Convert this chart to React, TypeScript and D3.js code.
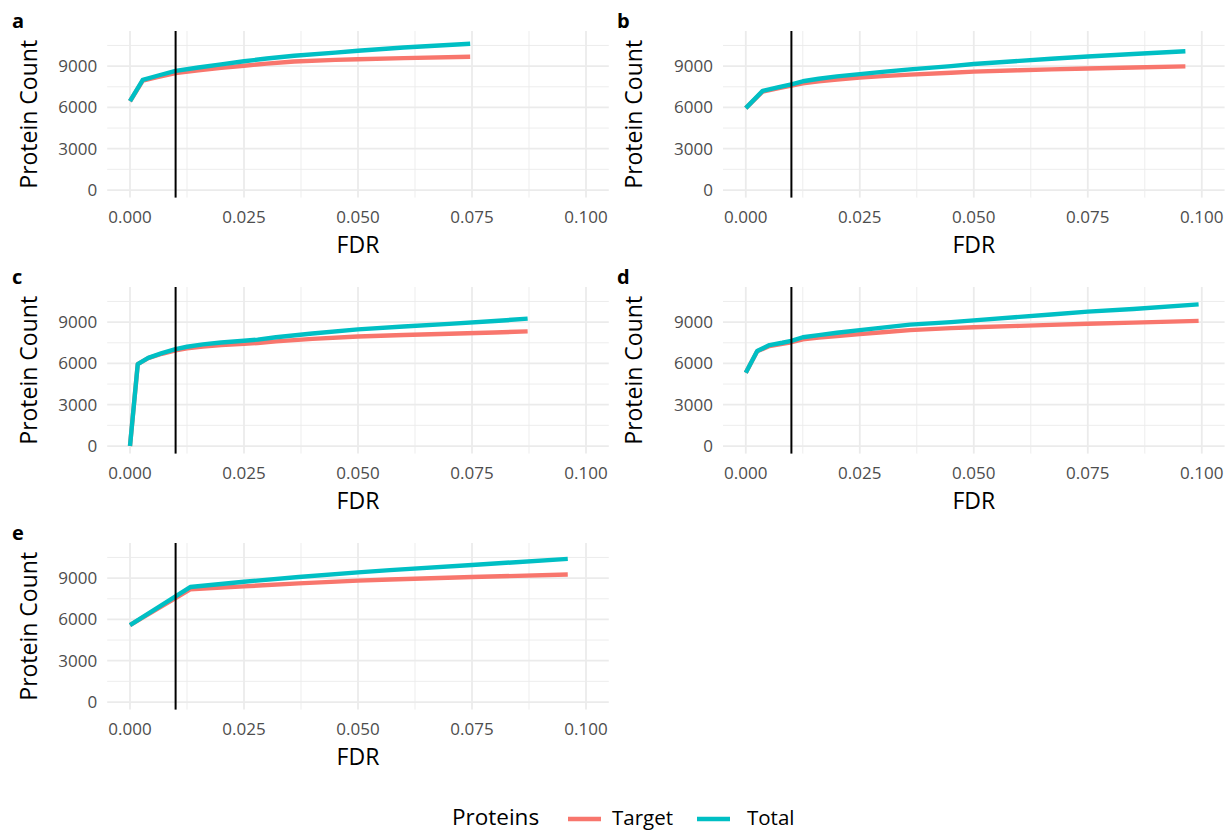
import React from 'react';
import * as d3 from 'd3';

// FDR curves, one set per panel
const fdrA = [0, 0.0028, 0.006, 0.01, 0.015, 0.02, 0.025, 0.03, 0.036, 0.045, 0.05, 0.06, 0.0746];
const totalA = [6450, 8000, 8300, 8650, 8900, 9130, 9350, 9550, 9750, 9980, 10120, 10350, 10620];
const targetA = [6450, 7950, 8200, 8500, 8700, 8870, 9030, 9180, 9330, 9450, 9500, 9580, 9680];

const fdrB = [0, 0.0037, 0.007, 0.01, 0.0125, 0.016, 0.02, 0.025, 0.03, 0.036, 0.045, 0.05, 0.06, 0.067, 0.075, 0.085, 0.0964];
const totalB = [5950, 7200, 7450, 7680, 7900, 8080, 8250, 8420, 8580, 8760, 9000, 9150, 9380, 9530, 9700, 9880, 10080];
const targetB = [5950, 7150, 7380, 7580, 7750, 7900, 8020, 8160, 8270, 8380, 8520, 8600, 8700, 8760, 8830, 8900, 8980];

const fdrC = [0, 0.0017, 0.004, 0.007, 0.01, 0.0125, 0.016, 0.02, 0.025, 0.028, 0.032, 0.04, 0.05, 0.06, 0.07, 0.08, 0.0872];
const totalC = [0, 5950, 6400, 6750, 7040, 7210, 7380, 7520, 7650, 7730, 7900, 8170, 8470, 8680, 8870, 9080, 9250];
const targetC = [0, 5950, 6380, 6700, 6950, 7100, 7230, 7330, 7420, 7480, 7600, 7780, 7950, 8060, 8150, 8250, 8330];

const fdrD = [0, 0.0025, 0.0052, 0.008, 0.01, 0.0125, 0.016, 0.02, 0.025, 0.03, 0.036, 0.045, 0.05, 0.06, 0.067, 0.075, 0.085, 0.0993];
const totalD = [5320, 6900, 7330, 7500, 7640, 7900, 8050, 8230, 8420, 8600, 8820, 9000, 9130, 9380, 9550, 9760, 9950, 10290];
const targetD = [5320, 6880, 7260, 7430, 7540, 7750, 7880, 7990, 8130, 8260, 8420, 8560, 8630, 8730, 8800, 8880, 8960, 9090];

const fdrE = [0, 0.0132, 0.025, 0.037, 0.05, 0.057, 0.075, 0.096];
const totalE = [5590, 8350, 8740, 9080, 9420, 9580, 9950, 10400];
const targetE = [5590, 8190, 8400, 8620, 8820, 8900, 9080, 9260];

const panelTags = ['a', 'b', 'c', 'd', 'e'];
const xTicks = [0, 0.025, 0.05, 0.075, 0.1];
const xMinor = [0.0125, 0.0375, 0.0625, 0.0875];
const yTicks = [0, 3000, 6000, 9000];
const yMinor = [1500, 4500, 7500, 10500];
const cutoff = 0.01;
const seriesNames = ['Target', 'Total'];
const seriesColors = ['#F8766D', '#00BFC4'];

const fdrs = [fdrA, fdrB, fdrC, fdrD, fdrE];
const totals = [totalA, totalB, totalC, totalD, totalE];
const targets = [targetA, targetB, targetC, targetD, targetE];

const W = 1231;
const H = 832;
const panelW = 501.6;
const panelH = 166.6;
const colLeft = [107.2, 723];
const rowTop = [31, 287, 543];
const font = "'Open Sans', sans-serif";

const Panel = ({ i }: { i: number }) => {
  const left = colLeft[i % 2];
  const top = rowTop[Math.floor(i / 2)];
  const x = d3.scaleLinear().domain([-0.005, 0.105]).range([left, left + panelW]);
  const y = d3.scaleLinear().domain([-550, 11550]).range([top + panelH, top]);
  const line = d3
    .line<[number, number]>()
    .x((d) => x(d[0]))
    .y((d) => y(d[1]));
  const fdr = fdrs[i];
  const sets = [targets[i], totals[i]];
  const tagX = i % 2 === 0 ? 12 : 617;

  return (
    <g>
      {yMinor.map((v) => (
        <line key={'ym' + v} x1={left} x2={left + panelW} y1={y(v)} y2={y(v)} stroke="#EBEBEB" strokeWidth={0.9} />
      ))}
      {xMinor.map((v) => (
        <line key={'xm' + v} x1={x(v)} x2={x(v)} y1={top} y2={top + panelH} stroke="#EBEBEB" strokeWidth={0.9} />
      ))}
      {yTicks.map((v) => (
        <line key={'y' + v} x1={left} x2={left + panelW} y1={y(v)} y2={y(v)} stroke="#EBEBEB" strokeWidth={1.8} />
      ))}
      {xTicks.map((v) => (
        <line key={'x' + v} x1={x(v)} x2={x(v)} y1={top} y2={top + panelH} stroke="#EBEBEB" strokeWidth={1.8} />
      ))}
      {sets.map((vals, s) => (
        <path
          key={s}
          d={line(fdr.map((f, k) => [f, vals[k]] as [number, number])) || ''}
          fill="none"
          stroke={seriesColors[s]}
          strokeWidth={4.4}
          strokeLinejoin="round"
        />
      ))}
      <line x1={x(cutoff)} x2={x(cutoff)} y1={top} y2={top + panelH} stroke="#000" strokeWidth={2} />
      {yTicks.map((v) => (
        <text key={'yl' + v} x={left - 10} y={y(v)} dy="0.35em" textAnchor="end" fontSize={17} fill="#4D4D4D">
          {v}
        </text>
      ))}
      {xTicks.map((v) => (
        <text key={'xl' + v} x={x(v)} y={top + panelH + 25} textAnchor="middle" fontSize={17} fill="#4D4D4D">
          {d3.format('.3f')(v)}
        </text>
      ))}
      <text x={left + panelW / 2} y={top + panelH + 55} textAnchor="middle" fontSize={23} fill="#000">
        FDR
      </text>
      <text
        transform={`translate(${tagX + 25},${top + panelH / 2}) rotate(-90)`}
        textAnchor="middle"
        fontSize={23}
        fill="#000"
      >
        Protein Count
      </text>
      <text x={tagX} y={top - 3} fontSize={20} fontWeight="bold" fill="#000">
        {panelTags[i]}
      </text>
    </g>
  );
};

const App = () => {
  return (
    <svg width={W} height={H} style={{ position: 'absolute', left: 0, top: 0, background: '#fff' }} fontFamily={font}>
      {panelTags.map((t, i) => (
        <Panel key={t} i={i} />
      ))}
      <g>
        <text x={452} y={825} fontSize={22.5} fill="#000">
          Proteins
        </text>
        {seriesNames.map((name, s) => (
          <g key={name}>
            <line x1={568 + s * 129} x2={601 + s * 129} y1={819} y2={819} stroke={seriesColors[s]} strokeWidth={4.4} />
            <text x={612 + s * 135} y={825} fontSize={20.5} fill="#000">
              {name}
            </text>
          </g>
        ))}
      </g>
    </svg>
  );
};

export default App;
